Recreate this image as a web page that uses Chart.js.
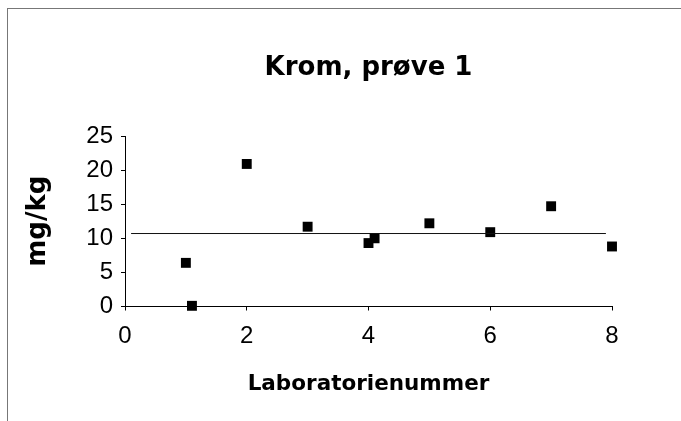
<!DOCTYPE html>
<html>
<head>
<meta charset="utf-8">
<script src="https://cdn.jsdelivr.net/npm/chart.js@4"></script>
<style>
  body { margin: 0; background: #fff; }
  #wrap { position: relative; width: 681px; height: 421px; }
  #frame { position: absolute; left: 7px; top: 8px; right: 0; bottom: 0; border-left: 1px solid #777; border-top: 1px solid #777; pointer-events: none; }
</style>
</head>
<body>
<div id="wrap">
  <canvas id="myChart" width="681" height="421"></canvas>
  <div id="frame"></div>
</div>
<script>
'use strict';
// laboratorienummer og resultat (mg/kg)
let labNr = [1, 1.1, 2, 3, 4, 4.1, 5, 6, 7, 8];
let krom = [6.4, 0.1, 20.9, 11.7, 9.3, 10.0, 12.2, 10.9, 14.7, 8.8];
// middelverdi-linje
let meanX = [0.1, 7.9];
let meanY = [10.7, 10.7];
let xTicks = [0, 2, 4, 6, 8];
let yTicks = [0, 5, 10, 15, 20, 25];

let points = [];
for (let i = 0; i < labNr.length; i++) {
    points.push({ x: labNr[i], y: krom[i] });
}
let meanLine = [];
for (let i = 0; i < meanX.length; i++) {
    meanLine.push({ x: meanX[i], y: meanY[i] });
}

let fontName = '"DejaVu Sans", sans-serif';
let tickFont = '"Liberation Sans", sans-serif';

let ctx = document.getElementById('myChart').getContext('2d');
let myChart = new Chart(ctx, {
    type: 'scatter',
    data: {
        datasets: [{
            type: 'line',
            data: meanLine,
            borderColor: '#111',
            borderWidth: 1,
            pointRadius: 0,
            fill: false
        }, {
            data: points,
            clip: false,
            pointStyle: 'rect',
            pointRadius: 7,
            backgroundColor: '#000',
            borderColor: '#000',
            borderWidth: 0
        }]
    },
    options: {
        responsive: false,
        animation: false,
        layout: {
            padding: { left: 8, right: 69, top: 0, bottom: 0 }
        },
        plugins: {
            legend: { display: false },
            tooltip: { enabled: false },
            title: {
                display: true,
                fullSize: false,
                text: 'Krom, prøve 1',
                color: '#000',
                font: { family: fontName, size: 26, weight: 'bold', lineHeight: 1.2 },
                padding: { top: 53, bottom: 51.8 }
            }
        },
        scales: {
            x: {
                type: 'linear',
                min: 0,
                max: 8,
                afterBuildTicks: function (scale) {
                    scale.ticks = xTicks.map(function (v) { return { value: v }; });
                },
                afterFit: function (scale) { scale.height = 114.5; },
                border: { color: '#000', width: 1 },
                grid: { drawOnChartArea: false, color: '#000', tickLength: 4 },
                ticks: { color: '#000', font: { family: tickFont, size: 24 }, padding: 11, maxRotation: 0, autoSkip: false },
                title: {
                    display: true,
                    text: 'Laboratorienummer',
                    color: '#000',
                    font: { family: fontName, size: 21.5, weight: 'bold', lineHeight: 1.2 },
                    padding: { top: 0, bottom: 24 }
                }
            },
            y: {
                min: 0,
                max: 25,
                afterBuildTicks: function (scale) {
                    scale.ticks = yTicks.map(function (v) { return { value: v }; });
                },
                afterFit: function (scale) { scale.width = 117; },
                border: { color: '#000', width: 1 },
                grid: { drawOnChartArea: false, color: '#000', tickLength: 4 },
                ticks: { color: '#000', font: { family: tickFont, size: 24 }, padding: 8, autoSkip: false },
                title: {
                    display: true,
                    text: 'mg/kg',
                    color: '#000',
                    font: { family: fontName, size: 26, weight: 'bold', lineHeight: 1.2 },
                    padding: { top: 15, bottom: 0 }
                }
            }
        }
    }
});
</script>
</body>
</html>
